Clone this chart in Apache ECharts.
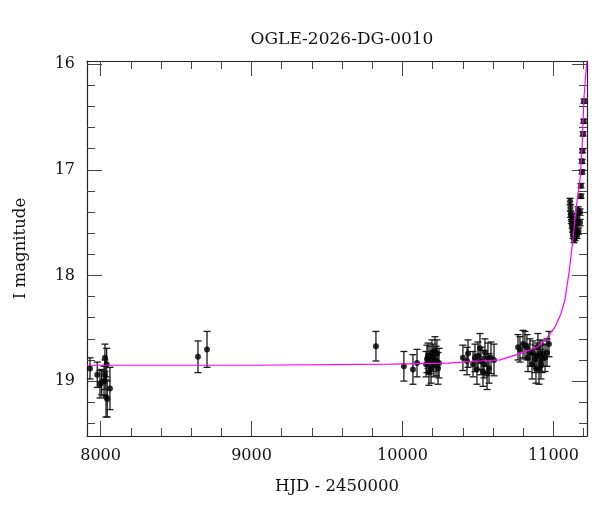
<!DOCTYPE html>
<html>
<head>
<meta charset="utf-8">
<title>OGLE-2026-DG-0010</title>
<script src="https://cdn.jsdelivr.net/npm/echarts@6/dist/echarts.min.js"></script>
<style>
  html, body { margin: 0; padding: 0; background: #fff; }
  #chart { width: 600px; height: 512px; }
</style>
</head>
<body>
<div id="chart"></div>
<script>
// photometry (HJD - 2450000, I mag, 1-sigma error)
const hjd = [
  7930, 7978, 7996, 8007, 8023, 8029, 8029, 8036, 8040, 8044, 8062,
  8645, 8705,
  9824,
  10009, 10069, 10096, 10156, 10162, 10169, 10175, 10182, 10189, 10195, 10202, 10208, 10215, 10222, 10228, 10235, 10242,
  10400, 10427, 10434, 10467, 10480, 10493, 10500, 10513, 10520, 10533, 10540, 10546, 10560, 10566, 10573, 10586, 10606,
  10765, 10778, 10798, 10811, 10824, 10831, 10844, 10858, 10864, 10877, 10884, 10891, 10897, 10904, 10910, 10917, 10924, 10930, 10944, 10957, 10970,
  11110, 11112, 11114, 11118, 11120, 11123, 11126, 11129, 11132, 11136, 11139, 11143, 11146, 11149, 11152, 11156, 11159, 11163,
  11166, 11176, 11176, 11182, 11182, 11189, 11189, 11192, 11196, 11200, 11202
]
const mag = [
  18.88, 18.94, 19.03, 19.01, 19.00, 18.78, 18.94, 19.15, 18.84, 19.17, 19.07,
  18.77, 18.70,
  18.67,
  18.86, 18.89, 18.83, 18.84, 18.79, 18.76, 18.92, 18.80, 18.88, 18.73, 18.78, 18.84, 18.71, 18.81, 18.74, 18.88, 18.83,
  18.78, 18.81, 18.74, 18.84, 18.78, 18.89, 18.76, 18.69, 18.81, 18.91, 18.84, 18.73, 18.93, 18.78, 18.88, 18.78, 18.80,
  18.68, 18.70, 18.65, 18.66, 18.68, 18.78, 18.73, 18.84, 18.74, 18.79, 18.88, 18.76, 18.68, 18.89, 18.74, 18.84, 18.79, 18.74, 18.78, 18.73, 18.65,
  17.30, 17.36, 17.42, 17.48, 17.44, 17.52, 17.56, 17.62, 17.58, 17.66, 17.60, 17.64, 17.55, 17.60, 17.50, 17.62, 17.45, 17.38,
  17.58, 17.50, 17.40, 17.25, 17.15, 17.02, 16.92, 16.82, 16.66, 16.54, 16.35
]
const magErr = [
  0.10, 0.12, 0.13, 0.12, 0.14, 0.13, 0.14, 0.19, 0.15, 0.17, 0.20,
  0.15, 0.17,
  0.14,
  0.14, 0.14, 0.13, 0.12, 0.13, 0.12, 0.12, 0.13, 0.14, 0.12, 0.13, 0.12, 0.13, 0.14, 0.13, 0.15, 0.14,
  0.12, 0.13, 0.13, 0.12, 0.13, 0.14, 0.13, 0.14, 0.13, 0.14, 0.13, 0.13, 0.15, 0.14, 0.14, 0.15, 0.15,
  0.12, 0.12, 0.13, 0.13, 0.12, 0.13, 0.13, 0.14, 0.12, 0.13, 0.14, 0.12, 0.13, 0.14, 0.13, 0.14, 0.13, 0.12, 0.13, 0.13, 0.12,
  0.03, 0.03, 0.03, 0.03, 0.03, 0.03, 0.03, 0.03, 0.03, 0.03, 0.03, 0.03, 0.03, 0.03, 0.03, 0.03, 0.03, 0.03,
  0.03, 0.03, 0.03, 0.02, 0.02, 0.02, 0.02, 0.02, 0.02, 0.02, 0.02
]

// model curve
const modelHjd = [7910, 9000, 9924, 10300, 10513, 10646, 10778, 10891, 10957, 11010, 11050, 11076, 11106, 11129, 11149, 11176, 11189, 11202, 11212, 11222]
const modelMag = [18.85, 18.85, 18.84, 18.83, 18.81, 18.80, 18.74, 18.68, 18.59, 18.49, 18.36, 18.23, 17.94, 17.66, 17.37, 17.09, 16.80, 16.32, 16.12, 15.97]

// ticks
const xMajor = [8000, 9000, 10000, 11000]
const xMinor = [8000, 8200, 8400, 8600, 8800, 9000, 9200, 9400, 9600, 9800, 10000, 10200, 10400, 10600, 10800, 11000, 11200]
const yMajor = [16, 17, 18, 19]
const yMinor = [16, 16.2, 16.4, 16.6, 16.8, 17, 17.2, 17.4, 17.6, 17.8, 18, 18.2, 18.4, 18.6, 18.8, 19, 19.2, 19.4]

const xMin = 7910
const xMax = 11222
const yMin = 15.97
const yMax = 19.52
const font = 'DejaVu Serif'

function xAxisOf(grid, pos, ticks, len, labels) {
  return {
    type: 'value',
    gridIndex: grid,
    position: pos,
    min: xMin,
    max: xMax,
    axisLine: { show: grid === 0, onZero: false, lineStyle: { color: '#222', width: 1.2 } },
    axisTick: { show: true, inside: true, length: len, customValues: ticks, lineStyle: { color: '#444', width: 1 } },
    axisLabel: { show: labels, customValues: ticks, margin: 12, color: '#111', fontFamily: font, fontSize: 16, formatter: v => String(v) },
    splitLine: { show: false }
  }
}

function yAxisOf(grid, pos, ticks, len, labels) {
  return {
    type: 'value',
    gridIndex: grid,
    position: pos,
    inverse: true,
    min: yMin,
    max: yMax,
    axisLine: { show: grid === 0, onZero: false, lineStyle: { color: '#222', width: 1.2 } },
    axisTick: { show: true, inside: true, length: len, customValues: ticks, lineStyle: { color: '#444', width: 1 } },
    axisLabel: { show: labels, customValues: ticks, margin: 12, color: '#111', fontFamily: font, fontSize: 16, formatter: v => String(v) },
    splitLine: { show: false }
  }
}

const chart = echarts.init(document.getElementById('chart'), null, { renderer: 'canvas' })

const xBottom = xAxisOf(0, 'bottom', xMajor, 15, true)
xBottom.name = 'HJD - 2450000'
xBottom.nameLocation = 'middle'
xBottom.nameGap = 42
xBottom.nameTextStyle = { color: '#111', fontFamily: font, fontSize: 16.5 }

const yLeft = yAxisOf(0, 'left', yMajor, 15, true)
yLeft.name = 'I magnitude'
yLeft.nameLocation = 'middle'
yLeft.nameGap = 58
yLeft.nameTextStyle = { color: '#111', fontFamily: font, fontSize: 16.5 }

const option = {
  animation: false,
  backgroundColor: '#fff',
  title: {
    text: 'OGLE-2026-DG-0010',
    left: 337,
    top: 26,
    textAlign: 'center',
    textStyle: { color: '#111', fontFamily: font, fontSize: 17, fontWeight: 'normal' }
  },
  grid: [
    { left: 87, right: 13, top: 61, bottom: 76 },
    { left: 87, right: 13, top: 61, bottom: 76 }
  ],
  xAxis: [
    xBottom,
    xAxisOf(0, 'top', xMajor, 15, false),
    xAxisOf(1, 'bottom', xMinor, 8, false),
    xAxisOf(1, 'top', xMinor, 8, false)
  ],
  yAxis: [
    yLeft,
    yAxisOf(0, 'right', yMajor, 15, false),
    yAxisOf(1, 'left', yMinor, 8, false),
    yAxisOf(1, 'right', yMinor, 8, false)
  ],
  series: [
    {
      // error bars with caps
      type: 'custom',
      xAxisIndex: 0,
      yAxisIndex: 0,
      clip: true,
      z: 2,
      data: hjd.map((t, i) => [t, mag[i] - magErr[i], mag[i] + magErr[i]]),
      encode: { x: 0, y: [1, 2] },
      renderItem: function (params, api) {
        const lo = api.coord([api.value(0), api.value(1)])
        const hi = api.coord([api.value(0), api.value(2)])
        const w = 3.5
        const style = { stroke: '#1a1a1a', lineWidth: 1.3 }
        return {
          type: 'group',
          children: [
            { type: 'line', shape: { x1: lo[0], y1: lo[1], x2: hi[0], y2: hi[1] }, style: style },
            { type: 'line', shape: { x1: lo[0] - w, y1: lo[1], x2: lo[0] + w, y2: lo[1] }, style: style },
            { type: 'line', shape: { x1: hi[0] - w, y1: hi[1], x2: hi[0] + w, y2: hi[1] }, style: style }
          ]
        }
      }
    },
    {
      type: 'scatter',
      xAxisIndex: 0,
      yAxisIndex: 0,
      symbol: 'circle',
      symbolSize: 6,
      itemStyle: { color: '#000' },
      z: 3,
      data: hjd.map((t, i) => [t, mag[i]])
    },
    {
      type: 'line',
      xAxisIndex: 0,
      yAxisIndex: 0,
      showSymbol: false,
      smooth: false,
      clip: true,
      lineStyle: { color: '#ff00ff', width: 1.2 },
      z: 4,
      data: modelHjd.map((t, i) => [t, modelMag[i]])
    }
  ]
}

chart.setOption(option)
</script>
</body>
</html>
